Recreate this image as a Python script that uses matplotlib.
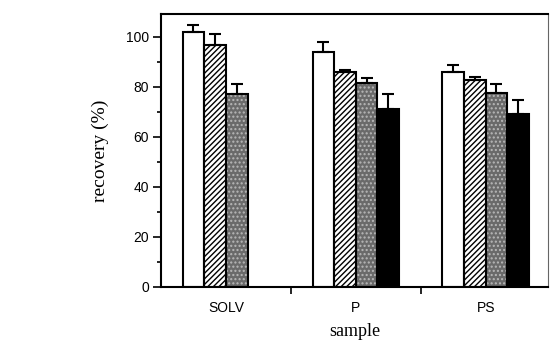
"""
Recovery per sample type, grouped bars with upward error bars
"""
import numpy as np
import matplotlib
matplotlib.use("Agg")
import matplotlib.pyplot as plt

# data
categories = ['SOLV', 'P', 'PS']
white = [102, 94, 86]
hatched = [96.5, 86, 82.5]
gray = [77, 81.5, 77.5]
black = [np.nan, 71, 69]
white_err = [2.5, 4, 2.8]
hatched_err = [4.5, 0.5, 1.5]
gray_err = [4, 2, 3.5]
black_err = [np.nan, 6, 5.5]

plt.rcParams['hatch.linewidth'] = 1.0

fig = plt.figure(figsize=(5.5, 3.47), dpi=100)
ax = fig.add_axes([161/550, 1-287/347, 387/550, 273/347])

x = np.arange(len(categories))
w = 1/6
series = [
    (white, white_err, dict(facecolor='white', hatch=None)),
    (hatched, hatched_err, dict(facecolor='white', hatch='//////', edgecolor='black')),
    (gray, gray_err, dict(facecolor='#6a6a6a', hatch='....', edgecolor='#b8b8b8')),
    (black, black_err, dict(facecolor='black', hatch=None)),
]
for j, (vals, errs, style) in enumerate(series):
    xpos = x + (j+1)*w
    ax.bar(xpos, vals, width=w, align='edge', linewidth=0, zorder=2, **style)
    # outline on top, hatch colour stays separate
    ax.bar(xpos, vals, width=w, align='edge', fill=False,
           edgecolor='black', linewidth=1.5, zorder=3)
    ax.errorbar(xpos + w/2, vals, yerr=[np.zeros(len(errs)), errs],
                fmt='none', ecolor='black', elinewidth=1.5,
                capsize=4.3, capthick=1.5, zorder=4)

ax.set_xlim(0, 2.98)
ax.set_ylim(0, 109)
ax.set_yticks(range(0, 101, 20))
ax.set_yticks(range(10, 101, 20), minor=True)
ax.set_xticks([1, 2])
ax.set_xticklabels([])
ax.set_xticks(x + 0.5, minor=True)
ax.set_xticklabels(categories, minor=True, fontsize=10, family='Liberation Sans')
ax.tick_params(axis='x', which='minor', length=0, pad=10)
ax.tick_params(axis='x', which='major', length=5, width=1.2, direction='out')
ax.tick_params(axis='y', which='major', length=5.5, width=1.2, direction='out',
               labelsize=10, pad=3)
ax.tick_params(axis='y', which='minor', length=3, width=1.2, direction='out')
for lab in ax.get_yticklabels():
    lab.set_family('Liberation Sans')

for side in ['left', 'bottom', 'top']:
    ax.spines[side].set_linewidth(1.5)
ax.spines['right'].set_linewidth(0.8)
ax.spines['right'].set_color('#666666')

ax.set_ylabel('recovery (%)', family='Liberation Serif', fontsize=14, labelpad=12)
ax.set_xlabel('sample', family='Liberation Serif', fontsize=13, labelpad=6)

fig.savefig('out.png', dpi=100)
